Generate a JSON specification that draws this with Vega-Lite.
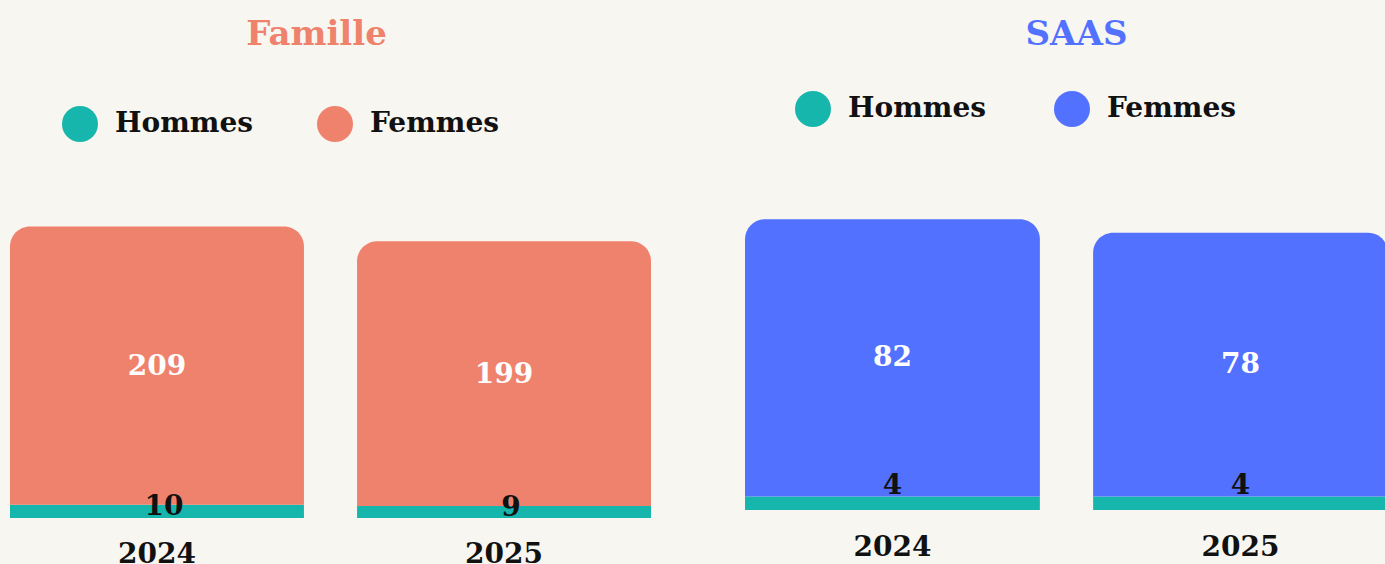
{
  "$schema": "https://vega.github.io/schema/vega-lite/v6.json",
  "background": "#f8f6f1",
  "padding": {"left": 10, "top": 18, "right": 0, "bottom": 0},
  "spacing": 94,
  "config": {
    "view": {"stroke": null},
    "font": "DejaVu Serif"
  },
  "datasets": {
    "famille": [
      {"annee": "2024", "genre": "Hommes", "valeur": 10, "ordre": 1},
      {"annee": "2024", "genre": "Femmes", "valeur": 209, "ordre": 2},
      {"annee": "2025", "genre": "Hommes", "valeur": 9, "ordre": 1},
      {"annee": "2025", "genre": "Femmes", "valeur": 199, "ordre": 2}
    ],
    "saas": [
      {"annee": "2024", "genre": "Hommes", "valeur": 4, "ordre": 1},
      {"annee": "2024", "genre": "Femmes", "valeur": 82, "ordre": 2},
      {"annee": "2025", "genre": "Hommes", "valeur": 4, "ordre": 1},
      {"annee": "2025", "genre": "Femmes", "valeur": 78, "ordre": 2}
    ]
  },
  "resolve": {
    "scale": {"x": "independent", "y": "independent", "color": "independent"},
    "legend": {"color": "independent"}
  },
  "hconcat": [
    {
      "width": 641,
      "height": 318,
      "data": {"name": "famille"},
      "title": {"text": "Famille", "color": "#ef826c", "fontSize": 34, "fontWeight": "bold", "font": "DejaVu Serif", "offset": 54, "dx": -14},
      "transform": [
        {"stack": "valeur", "groupby": ["annee"], "sort": [{"field": "ordre", "order": "ascending"}], "as": ["v0", "v1"]},
        {"calculate": "(datum.v0 + datum.v1) / 2", "as": "mid"}
      ],
      "encoding": {
        "x": {
          "field": "annee", "type": "ordinal",
          "scale": {"paddingInner": 0.153, "paddingOuter": 0},
          "axis": {"title": null, "labelAngle": 0, "domain": false, "ticks": false, "labelFontSize": 28, "labelFontWeight": "bold", "labelColor": "#111111", "labelPadding": 22, "labelFont": "DejaVu Serif"}
        }
      },
      "layer": [
        {
          "transform": [{"filter": "datum.genre === 'Hommes'"}],
          "mark": {"type": "bar"},
          "encoding": {
            "y": {"field": "v1", "type": "quantitative", "scale": {"domain": [0, 239], "nice": false}, "axis": null},
            "y2": {"field": "v0"},
            "color": {
              "field": "genre", "type": "nominal",
              "scale": {"domain": ["Hommes", "Femmes"], "range": ["#17b6ad", "#ef826c"]},
              "legend": {"orient": "none", "legendX": 52, "legendY": -94, "direction": "horizontal", "title": null, "symbolType": "circle", "symbolSize": 1296, "symbolStrokeWidth": 0, "labelFontSize": 28, "labelFontWeight": "bold", "labelFont": "DejaVu Serif", "labelColor": "#111111", "labelOffset": 17, "columnPadding": 64, "padding": 0}
            }
          }
        },
        {
          "transform": [{"filter": "datum.genre === 'Femmes'"}],
          "mark": {"type": "bar", "cornerRadiusTopLeft": 20, "cornerRadiusTopRight": 20},
          "encoding": {
            "y": {"field": "v1", "type": "quantitative"},
            "y2": {"field": "v0"},
            "color": {"field": "genre", "type": "nominal"}
          }
        },
        {
          "transform": [{"filter": "datum.genre === 'Femmes'"}],
          "mark": {"type": "text", "color": "#ffffff", "fontSize": 28, "fontWeight": "bold", "baseline": "middle", "dy": 1},
          "encoding": {
            "y": {"field": "mid", "type": "quantitative"},
            "text": {"field": "valeur", "type": "quantitative"}
          }
        },
        {
          "transform": [{"filter": "datum.genre === 'Hommes'"}],
          "mark": {"type": "text", "color": "#111111", "fontSize": 28, "fontWeight": "bold", "baseline": "middle", "dy": 2, "dx": 7},
          "encoding": {
            "y": {"field": "v1", "type": "quantitative"},
            "text": {"field": "valeur", "type": "quantitative"}
          }
        }
      ]
    },
    {
      "width": 643,
      "height": 310,
      "data": {"name": "saas"},
      "title": {"text": "SAAS", "color": "#5271ff", "fontSize": 34, "fontWeight": "bold", "font": "DejaVu Serif", "offset": 39, "dx": 10},
      "transform": [
        {"stack": "valeur", "groupby": ["annee"], "sort": [{"field": "ordre", "order": "ascending"}], "as": ["v0", "v1"]},
        {"calculate": "(datum.v0 + datum.v1) / 2", "as": "mid"}
      ],
      "encoding": {
        "x": {
          "field": "annee", "type": "ordinal",
          "scale": {"paddingInner": 0.153, "paddingOuter": 0},
          "axis": {"title": null, "labelAngle": 0, "domain": false, "ticks": false, "labelFontSize": 28, "labelFontWeight": "bold", "labelColor": "#111111", "labelPadding": 23, "labelFont": "DejaVu Serif"}
        }
      },
      "layer": [
        {
          "transform": [{"filter": "datum.genre === 'Hommes'"}],
          "mark": {"type": "bar"},
          "encoding": {
            "y": {"field": "v1", "type": "quantitative", "scale": {"domain": [0, 91.7], "nice": false}, "axis": null},
            "y2": {"field": "v0"},
            "color": {
              "field": "genre", "type": "nominal",
              "scale": {"domain": ["Hommes", "Femmes"], "range": ["#17b6ad", "#5271ff"]},
              "legend": {"orient": "none", "legendX": 50, "legendY": -109, "direction": "horizontal", "title": null, "symbolType": "circle", "symbolSize": 1296, "symbolStrokeWidth": 0, "labelFontSize": 28, "labelFontWeight": "bold", "labelFont": "DejaVu Serif", "labelColor": "#111111", "labelOffset": 17, "columnPadding": 68, "padding": 0}
            }
          }
        },
        {
          "transform": [{"filter": "datum.genre === 'Femmes'"}],
          "mark": {"type": "bar", "cornerRadiusTopLeft": 20, "cornerRadiusTopRight": 20},
          "encoding": {
            "y": {"field": "v1", "type": "quantitative"},
            "y2": {"field": "v0"},
            "color": {"field": "genre", "type": "nominal"}
          }
        },
        {
          "transform": [{"filter": "datum.genre === 'Femmes'"}],
          "mark": {"type": "text", "color": "#ffffff", "fontSize": 28, "fontWeight": "bold", "baseline": "middle"},
          "encoding": {
            "y": {"field": "mid", "type": "quantitative"},
            "text": {"field": "valeur", "type": "quantitative"}
          }
        },
        {
          "transform": [{"filter": "datum.genre === 'Hommes'"}],
          "mark": {"type": "text", "color": "#111111", "fontSize": 28, "fontWeight": "bold", "baseline": "middle", "dy": -10},
          "encoding": {
            "y": {"field": "v1", "type": "quantitative"},
            "text": {"field": "valeur", "type": "quantitative"}
          }
        }
      ]
    }
  ]
}
